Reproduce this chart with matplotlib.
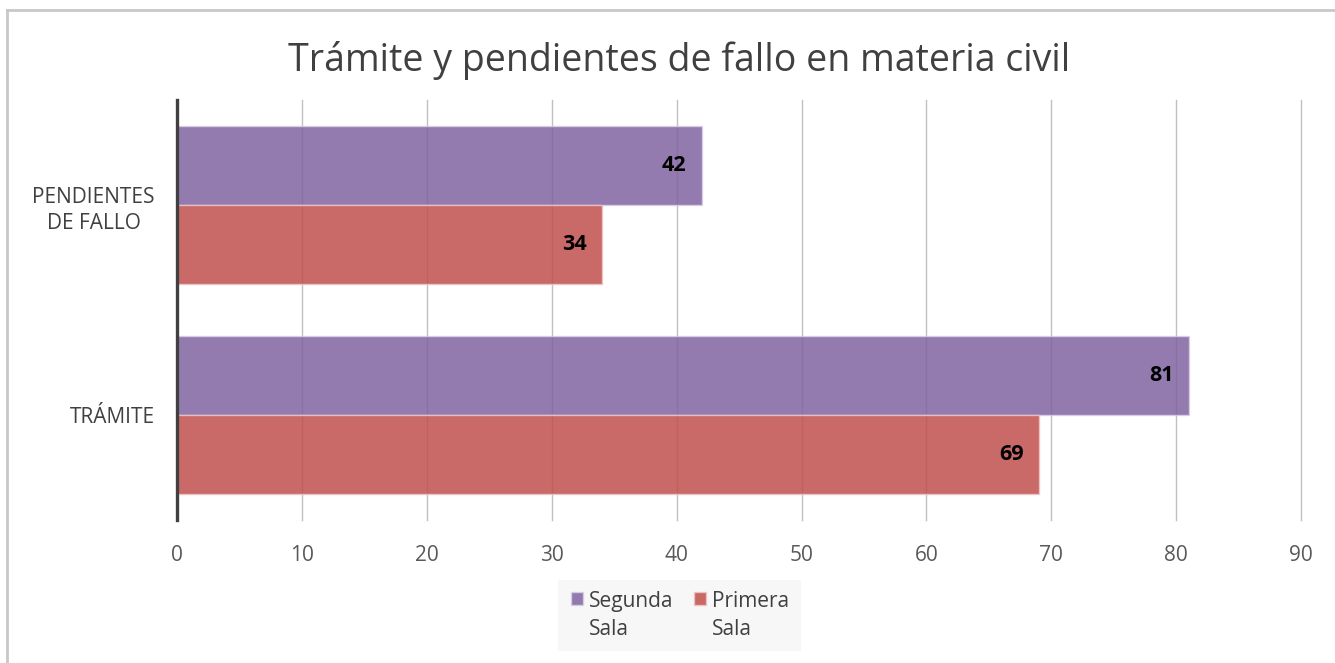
import matplotlib.pyplot as plt
import numpy as np
from matplotlib.lines import Line2D
from matplotlib.patches import Rectangle
from matplotlib.legend_handler import HandlerPatch

plt.rcParams["font.family"] = ["Open Sans", "DejaVu Sans"]

# datos
categorias = ["TRÁMITE", "PENDIENTES\nDE FALLO"]
segunda_sala = [81, 42]
primera_sala = [69, 34]
ticks_x = [0, 10, 20, 30, 40, 50, 60, 70, 80, 90]

col_segunda = "#8064A2"
col_primera = "#C0504D"

fig = plt.figure(figsize=(13.35, 6.63), dpi=100)
ax = fig.add_axes([0.1326, 0.2157, 0.842, 0.6333])

y = np.arange(len(categorias))
alto = 0.375

b1 = ax.barh(y + alto / 2, segunda_sala, height=alto, color=col_segunda, alpha=0.85,
             edgecolor="#d9d0e6", linewidth=1, label="Segunda\nSala", zorder=3)
b2 = ax.barh(y - alto / 2, primera_sala, height=alto, color=col_primera, alpha=0.85,
             edgecolor="#ecc6c5", linewidth=1, label="Primera\nSala", zorder=3)

for barras, vals in [(b1, segunda_sala), (b2, primera_sala)]:
    for b, v in zip(barras, vals):
        ax.annotate(str(v), (v, b.get_y() + b.get_height() / 2), xytext=(-11, 0),
                    textcoords="offset points", ha="right", va="center",
                    fontsize=15.5, fontweight="bold", color="black", zorder=5)

ax.set_xlim(0, 90)
ax.set_ylim(-0.5, 1.5)
ax.set_xticks(ticks_x)
ax.set_yticks(y)
ax.set_yticklabels(categorias, fontsize=15, color="#404040", ha="right",
                   multialignment="center", linespacing=1.35)
ax.tick_params(axis="y", length=0, pad=16)
ax.tick_params(axis="x", length=0, pad=18, labelsize=15, labelcolor="#595959")
ax.grid(axis="x", color="#c0c0c0", linewidth=1, zorder=0)
for gl in ax.get_xgridlines():
    gl.set_clip_on(False)
ax.set_axisbelow(True)

for s in ["top", "right", "bottom"]:
    ax.spines[s].set_visible(False)
ax.spines["left"].set_color("#404040")
ax.spines["left"].set_linewidth(2.4)
ax.spines["left"].set_zorder(4)

fig.suptitle("Trámite y pendientes de fallo en materia civil", fontsize=27,
             color="#404040", x=0.509, y=0.908, va="center")


# cuadrito de la leyenda alineado con la primera línea del texto
def cuadro(legend, orig_handle, xdescent, ydescent, width, height, fontsize):
    lado = 0.6 * fontsize
    return Rectangle((-xdescent + (width - lado) / 2, 0.9 * fontsize), lado, lado)


h1, h2 = b1.patches[0], b2.patches[0]
leg = fig.legend([h1, h2], ["Segunda\nSala", "Primera\nSala"], loc="center",
                 bbox_to_anchor=(0.509, 0.0716),
                 ncol=2, fontsize=15, frameon=True, facecolor="#f7f7f7",
                 edgecolor="none", fancybox=False, handlelength=0.7,
                 handleheight=0.7, handletextpad=0.25, columnspacing=0.9,
                 labelcolor="#404040", borderpad=0.55, borderaxespad=0,
                 handler_map={h1: HandlerPatch(patch_func=cuadro),
                              h2: HandlerPatch(patch_func=cuadro)})
leg.get_frame().set_alpha(1)
for t in leg.get_texts():
    t.set_ha("left")
    t.set_linespacing(1.4)

# borde del gráfico
fig.add_artist(Line2D([0.005, 1.0], [0.985, 0.985], color="#c8c8c8", linewidth=2))
fig.add_artist(Line2D([0.005, 0.005], [0.0, 0.985], color="#c8c8c8", linewidth=2))

plt.savefig("out.png", dpi=100)
